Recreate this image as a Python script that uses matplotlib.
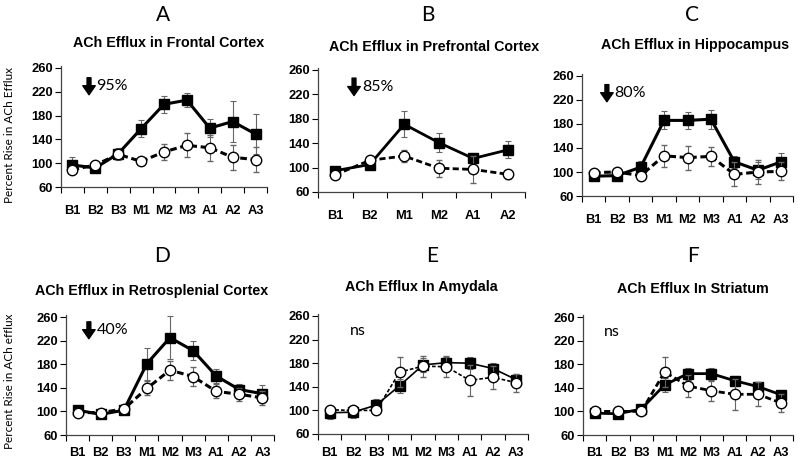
"""Six-panel ACh efflux figure: control (filled squares) vs lesion (open circles)."""
import matplotlib

matplotlib.use("Agg")
import matplotlib.pyplot as plt
import numpy as np

W, H = 800, 468

CATS9 = ["B1", "B2", "B3", "M1", "M2", "M3", "A1", "A2", "A3"]
CATS6 = ["B1", "B2", "M1", "M2", "A1", "A2"]
YTICKS = [60, 100, 140, 180, 220, 260]

# panel A - frontal cortex
a_ctrl = [97, 92, 116, 158, 199, 206, 159, 170, 149]
a_ctrl_err = [14, 5, 10, 14, 14, 12, 15, 34, 34]
a_les = [89, 97, 115, 103, 119, 130, 126, 110, 106]
a_les_err = [4, 4, 8, 3, 14, 20, 22, 21, 21]
# panel B - prefrontal cortex
b_ctrl = [95, 105, 171, 141, 115, 129]
b_ctrl_err = [5, 4, 21, 15, 8, 14]
b_les = [88, 112, 119, 99, 97, 89]
b_les_err = [4, 4, 10, 14, 22, 7]
# panel C - hippocampus
c_ctrl = [93, 94, 108, 186, 186, 188, 117, 103, 117]
c_ctrl_err = [5, 5, 10, 15, 14, 16, 10, 14, 14]
c_les = [99, 100, 94, 127, 124, 126, 96, 100, 101]
c_les_err = [5, 5, 5, 18, 20, 16, 20, 20, 15]
# panel D - retrosplenial cortex
d_ctrl = [102, 95, 102, 181, 225, 203, 160, 137, 130]
d_ctrl_err = [4, 3, 4, 27, 36, 16, 12, 10, 14]
d_les = [98, 98, 104, 139, 170, 159, 134, 129, 123]
d_les_err = [4, 4, 4, 12, 16, 16, 12, 11, 12]
# panel E - amygdala
e_ctrl = [96, 97, 109, 142, 177, 181, 180, 171, 152]
e_ctrl_err = [10, 10, 10, 12, 12, 10, 10, 10, 10]
e_les = [101, 100, 100, 165, 175, 174, 151, 156, 147]
e_les_err = [5, 5, 5, 25, 18, 18, 26, 20, 15]
# panel F - striatum
f_ctrl = [97, 96, 104, 145, 164, 164, 152, 142, 128]
f_ctrl_err = [5, 5, 5, 12, 10, 10, 8, 6, 6]
f_les = [100, 100, 100, 167, 143, 135, 129, 129, 114]
f_les_err = [4, 4, 4, 25, 18, 17, 26, 20, 15]

# (letter, title, cats, ctrl, ctrl_err, les, les_err, note, line width)
PANELS = [
    ("A", "ACh Efflux in Frontal Cortex", CATS9, a_ctrl, a_ctrl_err, a_les, a_les_err, "95%", 2.2),
    ("B", "ACh Efflux in Prefrontal Cortex", CATS6, b_ctrl, b_ctrl_err, b_les, b_les_err, "85%", 2.0),
    ("C", "ACh Efflux in Hippocampus", CATS9, c_ctrl, c_ctrl_err, c_les, c_les_err, "80%", 2.2),
    ("D", "ACh Efflux in Retrosplenial Cortex", CATS9, d_ctrl, d_ctrl_err, d_les, d_les_err, "40%", 2.2),
    ("E", "ACh Efflux In Amydala", CATS9, e_ctrl, e_ctrl_err, e_les, e_les_err, "ns", 1.2),
    ("F", "ACh Efflux In Striatum", CATS9, f_ctrl, f_ctrl_err, f_les, f_les_err, "ns", 2.0),
]

# pixel geometry: axis left, right, y of 60, y of 260
GEOM = [(61, 267, 187, 68), (318, 525, 192, 70), (582, 793, 196, 76),
        (66, 274, 435, 317), (318, 528, 434, 316), (583, 793, 435, 317)]
# letter xy, title xy (pixels), note xy (axes frac), arrow x (axes frac)
LETTER = [(163, 15), (428, 15), (692, 15), (162, 256), (432, 256), (693, 256)]
TITLE = [(169, 43), (434, 47), (695, 45), (152, 291), (421, 287), (693, 289)]
NOTE = [(0.17, 0.83), (0.213, 0.845), (0.152, 0.84), (0.15, 0.87), (0.152, 0.857), (0.10, 0.857)]
ARROW_X = [0.136, 0.174, 0.118, 0.11, None, None]

YMAX = 264
BOLD = "Liberation Sans"
SOFT = "Lato"

fig = plt.figure(figsize=(W / 100, H / 100), dpi=100)

for i, (letter, title, cats, ctrl, ctrl_err, les, les_err, note, lw) in enumerate(PANELS):
    left, right, y60, y260 = GEOM[i]
    ppu = (y60 - y260) / 200.0
    ytop = y60 - (YMAX - 60) * ppu
    ax = fig.add_axes([left / W, 1 - y60 / H, (right - left) / W, (y60 - ytop) / H])

    x = np.arange(len(cats))
    ax.errorbar(x, ctrl, yerr=ctrl_err, color="black", lw=lw, marker="s", ms=7,
                mfc="black", mec="black", ecolor="#666666", elinewidth=0.8,
                capsize=2.5, capthick=0.8, zorder=2)
    ax.errorbar(x, les, yerr=les_err, color="black", lw=lw, ls=(0, (2.2, 1.2)),
                marker="o", ms=7.5, mfc="white", mec="black", mew=1.0,
                ecolor="#666666", elinewidth=0.8, capsize=2.5, capthick=0.8, zorder=3)

    ax.set_xlim(-0.5, len(cats) - 0.5)
    ax.set_ylim(60, YMAX)
    ax.set_yticks(YTICKS)
    ax.set_yticklabels([str(t) for t in YTICKS], fontfamily=BOLD, fontweight="bold", fontsize=9.3)
    ax.set_xticks(x)
    ax.set_xticklabels(cats, fontfamily=BOLD, fontweight="bold", fontsize=9.3)
    ax.set_xticks(np.arange(len(cats) + 1) - 0.5, minor=True)
    ax.tick_params(axis="x", which="major", length=0, pad=13 if i < 3 else 9)
    ax.tick_params(axis="x", which="minor", length=4, width=0.8, direction="out")
    ax.tick_params(axis="y", length=4, width=0.8, direction="out", pad=2)
    for s in ("top", "right"):
        ax.spines[s].set_visible(False)
    for s in ("left", "bottom"):
        ax.spines[s].set_linewidth(0.9)
        ax.spines[s].set_color("#444444")

    nx, ny = NOTE[i]
    ax.text(nx, ny, note, transform=ax.transAxes, fontsize=11.5, fontfamily=SOFT,
            va="center", ha="left")
    if ARROW_X[i] is not None:
        ax.annotate("", xy=(ARROW_X[i], ny - 0.07), xytext=(ARROW_X[i], ny + 0.07),
                    xycoords="axes fraction",
                    arrowprops=dict(facecolor="black", edgecolor="black", width=2.8,
                                    headwidth=9, headlength=6.5))

    lx, ly = LETTER[i]
    fig.text(lx / W, 1 - ly / H, letter, fontsize=15, fontfamily=SOFT, ha="center", va="center")
    tx, ty = TITLE[i]
    fig.text(tx / W, 1 - ty / H, title, fontsize=10.3, fontfamily=BOLD, fontweight="bold",
             ha="center", va="center")

fig.text(10 / W, 1 - 135 / H, "Percent Rise in ACh Efflux", rotation=90, fontsize=8.5,
         fontfamily=SOFT, ha="center", va="center")
fig.text(10 / W, 1 - 381 / H, "Percent Rise in ACh efflux", rotation=90, fontsize=8.5,
         fontfamily=SOFT, ha="center", va="center")

fig.savefig("out.png", dpi=100)
